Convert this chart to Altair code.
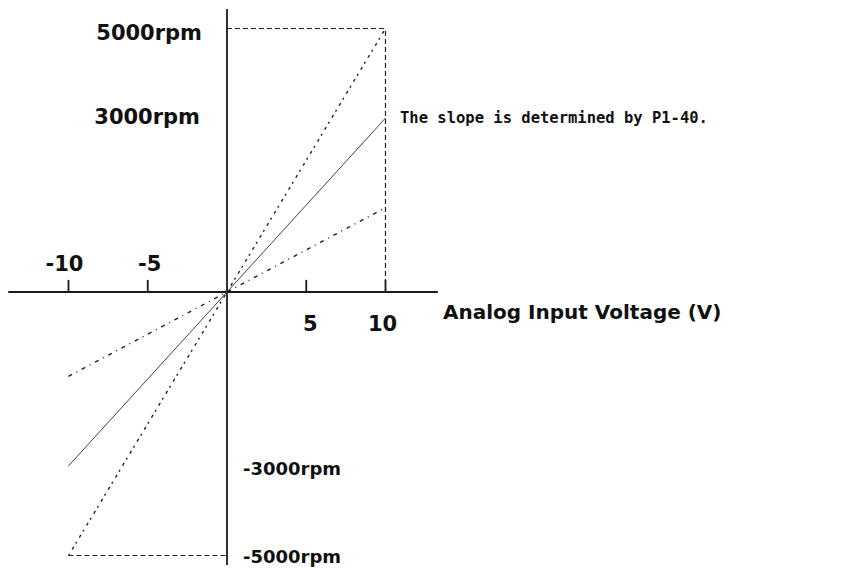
import altair as alt
import pandas as pd

# ---- data ----
volt_points = [-10, 0, 10]
steep_rpm = [-5000, 0, 5000]      # dotted line (largest slope)
mid_rpm = [-3300, 0, 3300]        # solid line
shallow_rpm = [-1600, 0, 1600]    # dash-dot line (smallest slope)

box_top_x = [0, 10]
box_top_y = [5000, 5000]
box_right_x = [10, 10]
box_right_y = [0, 5000]
box_bottom_x = [-10, 0]
box_bottom_y = [-5000, -5000]

axis_x_extent = [-13.8, 13.3]
axis_y_extent = [5370, -5180]
tick_values = [-10, -5, 5, 10]
tick_height = 230

rpm_labels = ["5000rpm", "3000rpm", "-3000rpm", "-5000rpm"]
rpm_label_values = [5000, 3300, -3300, -5000]
tick_labels = ["-10", "-5", "5", "10"]
x_title = "Analog Input Voltage (V)"
note = "The slope is determined by P1-40."

# ---- scales ----
XS = alt.Scale(domain=[-13.817, 38.549], nice=False, zero=False)
YS = alt.Scale(domain=[-5294, 5389], nice=False, zero=False)


def enc(df, xcol="x", ycol="y", **kw):
    return dict(
        x=alt.X(xcol, type="quantitative", scale=XS, axis=None),
        y=alt.Y(ycol, type="quantitative", scale=YS, axis=None),
        **kw,
    )


def line(xs, ys, dash=None, width=1.0, color="#222"):
    df = pd.DataFrame({"x": xs, "y": ys})
    kw = dict(color=color, strokeWidth=width, clip=False)
    if dash:
        kw["strokeDash"] = dash
    return alt.Chart(df).mark_line(**kw).encode(**enc(df))


layers = []

# axes
layers.append(line(axis_x_extent, [0, 0], width=1.8, color="#1a1a1a"))
layers.append(line([0, 0], axis_y_extent, width=1.8, color="#1a1a1a"))

# ticks
tick_df = pd.DataFrame({"x": tick_values, "y": [0] * 4, "y2": [tick_height] * 4})
layers.append(
    alt.Chart(tick_df)
    .mark_rule(color="#1a1a1a", strokeWidth=1.8)
    .encode(
        x=alt.X("x:Q", scale=XS, axis=None),
        y=alt.Y("y:Q", scale=YS, axis=None),
        y2="y2:Q",
    )
)

# dashed box lines
layers.append(line(box_top_x, box_top_y, dash=[5, 3], width=1.2))
layers.append(line(box_right_x, box_right_y, dash=[5, 3], width=1.2))
layers.append(line(box_bottom_x, box_bottom_y, dash=[5, 3], width=1.2))

# slope lines
layers.append(line(volt_points, steep_rpm, dash=[2, 5, 3, 4], width=1.4))
layers.append(line(volt_points, mid_rpm, width=1.0, color="#444"))
layers.append(line(volt_points, shallow_rpm, dash=[4, 5, 1, 5], width=1.4))

LABEL_FONT = "DejaVu Sans"


def text(label, x, y, dx, dy, align, font=LABEL_FONT, size=20, weight="bold", color="#111"):
    df = pd.DataFrame({"x": [x], "y": [y], "t": [label]})
    return (
        alt.Chart(df)
        .mark_text(
            align=align,
            baseline="alphabetic",
            dx=dx,
            dy=dy,
            font=font,
            fontSize=size,
            fontWeight=weight,
            color=color,
        )
        .encode(**enc(df, text="t:N"))
    )


# rpm labels
rpm_offsets = [(-25, 11.5, "right", 21), (-27, 6, "right", 21), (16, 9, "left", 18), (16, 7, "left", 18)]
for lab, val, (dx, dy, al, sz) in zip(rpm_labels, rpm_label_values, rpm_offsets):
    layers.append(text(lab, 0, val, dx, dy, al, size=sz))

# tick labels
tick_offsets = [(-4, -21), (2, -21), (4, 39), (-3, 39)]
for lab, val, (dx, dy) in zip(tick_labels, tick_values, tick_offsets):
    layers.append(text(lab, val, 0, dx, dy, "center", size=21))

# x title
layers.append(text(x_title, 10, 0, 57.5, 27, "left"))

# note
layers.append(text(note, 10, 3300, 14.5, 5, "left", font="DejaVu Sans Mono", size=15.5, weight="bold"))

chart = (
    alt.layer(*layers)
    .properties(
        width=830,
        height=563,
        padding=0,
        autosize=alt.AutoSizeParams(type="none"),
        background="white",
    )
    .configure_view(stroke=None)
)

chart.save("out.html", embed_options={"renderer": "svg", "actions": False})
